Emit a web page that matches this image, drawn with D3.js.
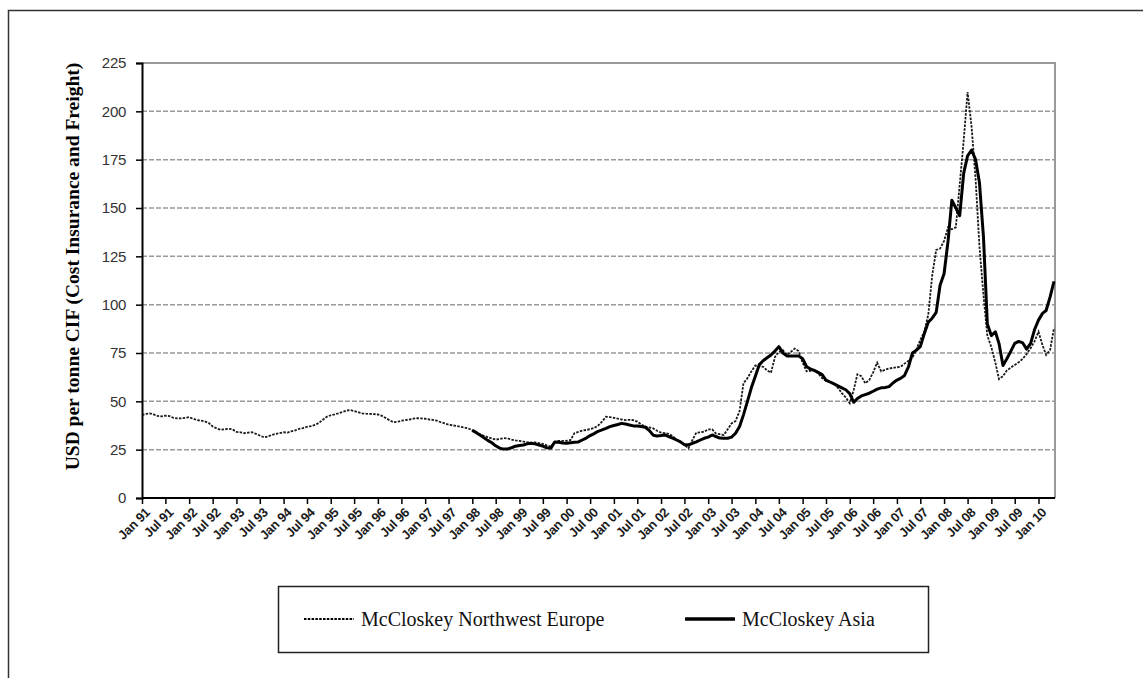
<!DOCTYPE html>
<html>
<head>
<meta charset="utf-8">
<script src="https://cdn.jsdelivr.net/npm/d3@7/dist/d3.min.js"></script>
<style>
  body { margin: 0; background: #fff; }
</style>
</head>
<body>
<div id="wrapper"></div>
<script>
// monthly prices, USD per tonne
const europeStart = new Date(1991, 0, 1)
const europe = [
  43, 43.5, 43.8, 43.2, 42.5, 42.2, 42.6, 42.4, 41.5, 41.2, 41.2, 41.5,   // 1991
  41.8, 41, 40.3, 40, 39.6, 38.8, 37, 36, 35.3, 35.5, 35.8, 35.5,         // 1992
  34.2, 34, 33.5, 33.8, 34, 33.2, 32.3, 31.4, 31.8, 32.6, 33.2, 33.6,     // 1993
  34, 33.8, 34.5, 35, 35.8, 36.2, 36.8, 37.2, 37.8, 38.8, 40.5, 42,       // 1994
  42.8, 43.3, 43.8, 44.5, 45.2, 45.5, 45, 44.4, 43.8, 43.6, 43.5, 43.4,   // 1995
  43.2, 42.5, 41.4, 40.2, 39.2, 39.4, 40, 40.3, 40.6, 41, 41.3, 41.2,     // 1996
  41, 40.6, 40.4, 40, 39.2, 38.6, 38, 37.6, 37.2, 36.8, 36.5, 36,         // 1997
  35, 34, 33, 32.2, 31.5, 30.8, 30.2, 30.5, 31, 30.8, 30.2, 29.8,         // 1998
  29.5, 29.2, 28.8, 28.6, 28.8, 28.4, 28, 27.2, 26.6, 29, 29.5, 29.5,     // 1999
  29.6, 30, 33.5, 34.2, 34.8, 35.2, 35.6, 36.2, 37.5, 39.5, 42, 41.8,     // 2000
  41.5, 41, 40.6, 40.3, 40.4, 40.3, 39.5, 38, 37, 36.5, 36, 34.8,         // 2001
  33.8, 33.5, 33.2, 32, 30.2, 29, 27.5, 25.7, 30, 33.8, 34, 34.3,         // 2002
  35.5, 35.5, 33.4, 33, 32.6, 35.5, 38.6, 39.8, 45, 59.3, 62, 65.5,       // 2003
  68.5, 68.2, 67.9, 66, 64.8, 73, 75.5, 76.5, 74, 75.5, 77.3, 76,         // 2004
  70, 65.5, 65.8, 66, 64.5, 62, 60.5, 60, 59.3, 57, 54.2, 52,             // 2005
  49, 56, 64, 63, 59.3, 61, 65, 70, 65.5, 66.3, 67, 67.3,                 // 2006
  67.6, 68, 69.5, 71, 72.5, 77, 81.7, 86, 95, 115, 128.3, 129,            // 2007
  133, 140, 139, 140, 162, 185, 210, 192, 165, 130, 105, 84,              // 2008
  78, 70, 61.5, 63, 66, 67.5, 68.8, 70.2, 72, 74.5, 77.5, 81,             // 2009
  86, 79, 74, 76.6, 88                                                    // 2010
]

const asiaStart = new Date(1998, 0, 1)
const asia = [
  35, 33.8, 32.6, 31.2, 29.8, 28.6, 27, 25.8, 25.3, 25.4, 26, 26.8,       // 1998
  27.2, 27.4, 28, 28.3, 28, 27.4, 26.8, 26, 25.8, 29, 28.8, 28.5,         // 1999
  28.3, 28.6, 28.8, 29, 30, 31, 32.3, 33.3, 34.5, 35.2, 36, 36.9,         // 2000
  37.5, 38, 38.6, 38.3, 37.8, 37.3, 37.2, 37, 36.6, 35, 32.5, 32.1,       // 2001
  32.3, 32.6, 31.8, 31, 30, 29, 27.6, 27.5, 28.3, 29, 30, 30.9,           // 2002
  31.5, 32.6, 31.8, 31, 30.9, 30.9, 31.5, 33.5, 37, 43, 50, 57,           // 2003
  63, 69, 71, 72.5, 74, 76, 78.3, 75, 73.5, 73.5, 73.5, 73.5,             // 2004
  72, 67.9, 66.8, 66, 65, 63.8, 61, 60, 59, 58, 57, 56,                   // 2005
  54, 49.5, 51.5, 52.8, 53.5, 54.2, 55.2, 56.3, 57, 57.2, 57.6, 59.5,     // 2006
  61, 62, 63.4, 68, 75, 76.5, 78.3, 85, 91, 93, 96, 110,                  // 2007
  116, 133, 154, 150, 146, 168, 177, 180, 175, 163, 135, 90,              // 2008
  84, 86, 80, 68.5, 72, 76, 80, 81, 80.2, 77, 80, 87,                     // 2009
  92, 95.5, 97, 104, 112                                                  // 2010
]

const seriesNames = ['McCloskey Northwest Europe', 'McCloskey Asia']
const yTicks = [0, 25, 50, 75, 100, 125, 150, 175, 200, 225]
const yTitle = 'USD per tonne CIF (Cost Insurance and Freight)'
const xStart = new Date(1991, 0, 1)
const xEnd = new Date(2010, 4, 1)
const xTickDates = d3.timeMonth.range(new Date(1991, 0, 1), new Date(2010, 0, 2), 6)

function drawLines() {
  const toPoints = (values, start) => values.map((v, i) => ({ date: d3.timeMonth.offset(start, i), value: v }))
  const europeData = toPoints(europe, europeStart)
  const asiaData = toPoints(asia, asiaStart)

  const xAccessor = d => d.date
  const yAccessor = d => d.value

  let dimensions = {
    width: 1143,
    height: 678,
    margin: { top: 63, right: 88, bottom: 180, left: 142 }
  }
  dimensions.boundedWidth = dimensions.width - dimensions.margin.left - dimensions.margin.right
  dimensions.boundedHeight = dimensions.height - dimensions.margin.top - dimensions.margin.bottom

  const wrapper = d3.select('#wrapper')
    .append('svg')
      .attr('width', dimensions.width)
      .attr('height', dimensions.height)

  // outer frame, cut off on the right and bottom
  wrapper.append('rect')
    .attr('x', 8.5)
    .attr('y', 10.5)
    .attr('width', 1300)
    .attr('height', 1000)
    .attr('fill', 'none')
    .attr('stroke', '#333')
    .attr('stroke-width', 1.5)

  const bounds = wrapper.append('g')
    .attr('transform', `translate(${dimensions.margin.left}, ${dimensions.margin.top})`)

  // scales
  const xScale = d3.scaleTime()
    .domain([xStart, xEnd])
    .range([0, dimensions.boundedWidth - 1])

  const yScale = d3.scaleLinear()
    .domain([0, 225])
    .range([dimensions.boundedHeight, 0])

  // gridlines
  bounds.append('g')
    .selectAll('line')
    .data(yTicks.filter(t => t > 0 && t < 225))
    .enter().append('line')
      .attr('x1', 0)
      .attr('x2', dimensions.boundedWidth)
      .attr('y1', d => yScale(d))
      .attr('y2', d => yScale(d))
      .attr('stroke', '#999')
      .attr('stroke-width', 1.5)
      .attr('stroke-dasharray', '5 2')

  // plot border top and right
  bounds.append('path')
    .attr('d', `M0,0H${dimensions.boundedWidth}V${dimensions.boundedHeight}`)
    .attr('fill', 'none')
    .attr('stroke', '#999')
    .attr('stroke-width', 2)

  // lines
  const lineGenerator = d3.line()
    .x(d => xScale(xAccessor(d)))
    .y(d => yScale(yAccessor(d)))

  bounds.append('path')
    .attr('d', lineGenerator(europeData))
    .attr('fill', 'none')
    .attr('stroke', '#1a1a1a')
    .attr('stroke-width', 1.8)
    .attr('stroke-dasharray', '2.5 1.3')

  bounds.append('path')
    .attr('d', lineGenerator(asiaData))
    .attr('fill', 'none')
    .attr('stroke', '#000')
    .attr('stroke-width', 3)
    .attr('stroke-linejoin', 'round')

  // axes
  const yAxis = d3.axisLeft(yScale)
    .tickValues(yTicks)
    .tickSize(6)
    .tickPadding(10)

  const yAxisGroup = bounds.append('g').call(yAxis)
  yAxisGroup.select('.domain').attr('stroke', '#000').attr('stroke-width', 2)
  yAxisGroup.selectAll('.tick line').attr('stroke', '#000').attr('stroke-width', 1.5)
  yAxisGroup.selectAll('text')
    .style('font-family', '"Liberation Sans", Arial, sans-serif')
    .style('font-size', '15px')
    .style('letter-spacing', '-0.3px')
    .attr('fill', '#333')

  const xAxis = d3.axisBottom(xScale)
    .tickValues(xTickDates)
    .tickFormat(d3.timeFormat('%b %y'))
    .tickSize(6)

  const xAxisGroup = bounds.append('g')
    .attr('transform', `translate(0, ${dimensions.boundedHeight})`)
    .call(xAxis)
  xAxisGroup.select('.domain')
    .attr('d', `M0,0H${dimensions.boundedWidth}`)
    .attr('stroke', '#000')
    .attr('stroke-width', 2)
  xAxisGroup.selectAll('.tick line').attr('stroke', '#000').attr('stroke-width', 1.5)
  xAxisGroup.selectAll('text')
    .attr('x', 0)
    .attr('y', 0)
    .attr('dy', '0.35em')
    .attr('transform', 'translate(5, 12) rotate(-45)')
    .attr('text-anchor', 'end')
    .style('font-family', '"Liberation Sans", Arial, sans-serif')
    .style('font-size', '13px')
    .style('font-weight', 'bold')
    .style('letter-spacing', '-0.3px')
    .attr('fill', '#1a1a1a')

  // y title
  wrapper.append('text')
    .attr('transform', `translate(79, ${(dimensions.margin.top + 470) / 2}) rotate(-90)`)
    .attr('text-anchor', 'middle')
    .style('font-family', '"Liberation Serif", "Times New Roman", serif')
    .style('font-size', '19.5px')
    .style('font-weight', 'bold')
    .text(yTitle)

  // legend
  const legend = wrapper.append('g')
    .attr('transform', 'translate(278, 586)')

  legend.append('rect')
    .attr('x', 0.5)
    .attr('y', 0.5)
    .attr('width', 650)
    .attr('height', 66)
    .attr('fill', '#fff')
    .attr('stroke', '#222')
    .attr('stroke-width', 1.5)

  const legendItems = [
    { name: seriesNames[0], x: 26, width: 1.8, dash: '2.5 1.3' },
    { name: seriesNames[1], x: 407, width: 3.5, dash: null }
  ]

  const item = legend.selectAll('.item')
    .data(legendItems)
    .enter().append('g')
      .attr('transform', d => `translate(${d.x}, 33)`)

  item.append('line')
    .attr('x1', 0)
    .attr('x2', 50)
    .attr('stroke', '#000')
    .attr('stroke-width', d => d.width)
    .attr('stroke-dasharray', d => d.dash)

  item.append('text')
    .attr('x', 57)
    .attr('dy', '0.33em')
    .style('font-family', '"Liberation Serif", "Times New Roman", serif')
    .style('font-size', '20px')
    .attr('fill', '#111')
    .text(d => d.name)
}

drawLines()
</script>
</body>
</html>
